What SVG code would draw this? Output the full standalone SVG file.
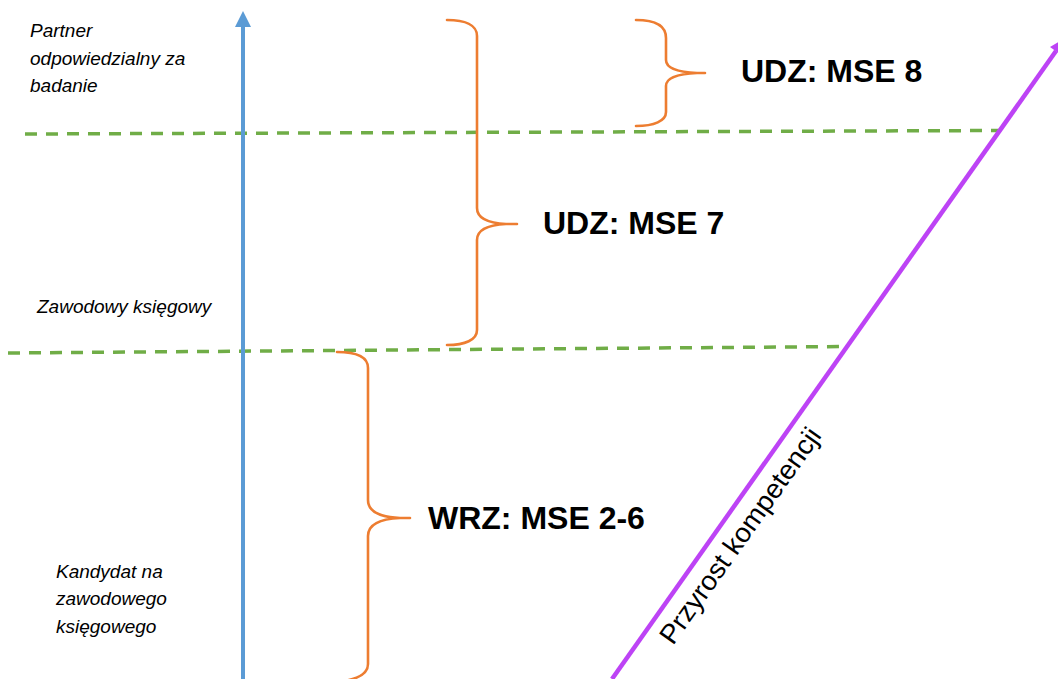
<svg xmlns="http://www.w3.org/2000/svg" width="1058" height="679" viewBox="0 0 1058 679">
<style>
.lbl{font-family:"Liberation Sans",Arial,sans-serif;font-style:italic;font-size:19px;fill:#000}
.big{font-family:"Liberation Sans",Arial,sans-serif;font-weight:bold;font-size:32px;fill:#000}
.rot{font-family:"Liberation Sans",Arial,sans-serif;font-size:27px;fill:#000}
.brace{fill:none;stroke:#ED7D31;stroke-width:2.6;stroke-linecap:round;stroke-linejoin:round}
.dash{fill:none;stroke:#70AD47;stroke-width:3.5;stroke-dasharray:12 9}
</style>
<rect width="1058" height="679" fill="#fff"/>
<g id="connectors">
  <line class="dash" x1="25" y1="134" x2="1000" y2="130.5"/>
  <line class="dash" x1="8" y1="353" x2="848" y2="346.5"/>
  <g id="axis-vertical">
    <line x1="243" y1="679" x2="243" y2="25" stroke="#5B9BD5" stroke-width="4"/>
    <polygon points="235,27 243,11 251,27" fill="#5B9BD5"/>
  </g>
  <g id="axis-diagonal">
    <line x1="612" y1="679" x2="1056" y2="51" stroke="#BD43F5" stroke-width="4.5"/>
    <polygon points="1065,38 1061.5,55.1 1050,47" fill="#BD43F5"/>
  </g>
</g>
<g id="label-partner">
  <text class="lbl" x="30" y="37">Partner</text>
  <text class="lbl" x="30" y="65">odpowiedzialny za</text>
  <text class="lbl" x="30" y="92">badanie</text>
</g>
<g id="label-zawodowy">
  <text class="lbl" x="37" y="313">Zawodowy księgowy</text>
</g>
<g id="label-kandydat">
  <text class="lbl" x="56" y="578">Kandydat na</text>
  <text class="lbl" x="56" y="605">zawodowego</text>
  <text class="lbl" x="56" y="633">księgowego</text>
</g>
<g id="brace-mse8">
  <path class="brace" d="M636,20 C654,20 666,25 666,38 L666,60 C666,68 676,72 697,73 L705,73 M697,73 C676,74 666,78 666,86 L666,112 C666,121 654,126 636,126"/>
  <text class="big" x="741" y="82">UDZ: MSE 8</text>
</g>
<g id="brace-mse7">
  <path class="brace" d="M447,20 C465,20 477,25 477,36 L477,208 C477,218 487,223 506,224 L517,224 M506,224 C487,225 477,230 477,240 L477,330 C477,340 465,345 447,345"/>
  <text class="big" x="543" y="234">UDZ: MSE 7</text>
</g>
<g id="brace-mse26">
  <path class="brace" d="M337,352 C356,352 368,357 368,368 L368,500 C368,511 378,517 400,518 L410,518 M400,518 C378,519 368,525 368,536 L368,664 C368,674 356,680 337,682"/>
  <text class="big" x="428" y="529">WRZ: MSE 2-6</text>
</g>
<g id="label-przyrost">
  <text class="rot" transform="translate(673,646) rotate(-54.6)" textLength="258" lengthAdjust="spacingAndGlyphs">Przyrost kompetencji</text>
</g>
</svg>
